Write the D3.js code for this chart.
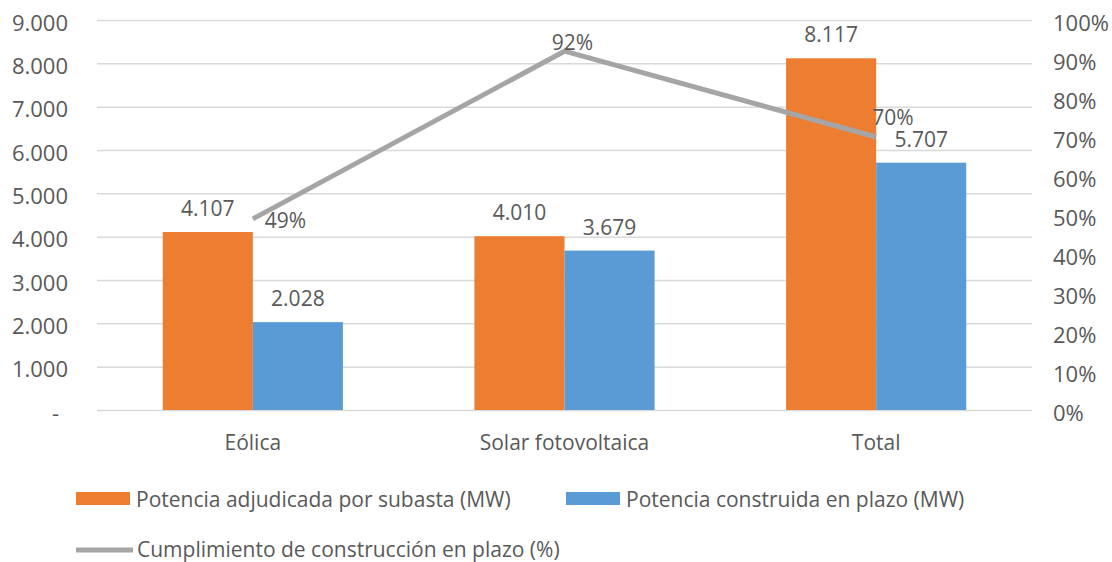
<!DOCTYPE html>
<html>
<head>
<meta charset="utf-8">
<script src="https://cdnjs.cloudflare.com/ajax/libs/d3/7.8.5/d3.min.js"></script>
<style>
  body { margin: 0; background: #fff; }
  text { font-family: "Open Sans", sans-serif; fill: #595959; }
</style>
</head>
<body>
<div class="graph"></div>
<script>
// data
var categories = ['Eólica', 'Solar fotovoltaica', 'Total'];
var adjudicada = [4107, 4010, 8117];
var construida = [2028, 3679, 5707];
var cumplimiento = [0.49, 0.92, 0.70];
var leftTicks = [0, 1000, 2000, 3000, 4000, 5000, 6000, 7000, 8000, 9000];
var rightTicks = [0, 0.1, 0.2, 0.3, 0.4, 0.5, 0.6, 0.7, 0.8, 0.9, 1];
var seriesNames = ['Potencia adjudicada por subasta (MW)', 'Potencia construida en plazo (MW)'];
var lineName = 'Cumplimiento de construcción en plazo (%)';

// percentage label offsets (dx, dy, anchor) as Excel placed them
var pctLabelPos = [[12, 9, 'start'], [8, -1, 'middle'], [-4, -12, 'start']];

var w = 1112, h = 562;
var colors = ['#ED7D31', '#5B9BD5'];
var lineColor = '#A5A5A5';

var svg = d3.select('div.graph').append('svg')
    .attr('width', w).attr('height', h);

var plt = {left: 97, right: 1032, top: 20, bottom: 410};

var x0 = d3.scaleBand().domain(categories).range([plt.left, plt.right]);
var x1 = d3.scaleBand().domain([0, 1]).range([0, x0.bandwidth()]).paddingOuter(0.73);
var y = d3.scaleLinear().domain([0, 9000]).range([plt.bottom, plt.top]);
var yr = d3.scaleLinear().domain([0, 1]).range([plt.bottom, plt.top]);

var fmt = function(v){ return v === 0 ? '-' : d3.format(',')(v).replace(/,/g, '.'); };

// gridlines + left axis
var leftAxis = d3.axisLeft(y).tickValues(leftTicks).tickFormat(fmt)
    .tickSize(-(plt.right - plt.left)).tickPadding(29);
var gl = svg.append('g').attr('transform', 'translate(' + plt.left + ',0)').call(leftAxis);
gl.select('.domain').remove();
gl.selectAll('.tick line').attr('stroke', '#d9d9d9').attr('stroke-width', 1.5);
gl.selectAll('.tick text').attr('font-size', 22).style('fill', '#595959')
    .attr('y', 3)
    .attr('dx', function(d){ return d === 0 ? -9 : 0; });

// right axis
var rightAxis = d3.axisRight(yr).tickValues(rightTicks).tickFormat(d3.format('.0%'))
    .tickSize(0).tickPadding(21);
var gr = svg.append('g').attr('transform', 'translate(' + plt.right + ',0)').call(rightAxis);
gr.select('.domain').remove();
gr.selectAll('.tick text').attr('font-size', 22).attr('y', 3).style('fill', '#595959');

// bars
var rows = categories.map(function(c, i){ return {cat: c, vals: [adjudicada[i], construida[i]]}; });
var grp = svg.selectAll('.cat').data(rows).enter().append('g')
    .attr('class', 'cat')
    .attr('transform', function(d){ return 'translate(' + x0(d.cat) + ',0)'; });

grp.selectAll('rect').data(function(d){ return d.vals; }).enter().append('rect')
    .attr('x', function(d, i){ return x1(i); })
    .attr('width', x1.bandwidth())
    .attr('y', function(d){ return y(d); })
    .attr('height', function(d){ return y(0) - y(d); })
    .attr('fill', function(d, i){ return colors[i]; });

grp.selectAll('.vlab').data(function(d){ return d.vals; }).enter().append('text')
    .attr('class', 'vlab')
    .attr('x', function(d, i){ return x1(i) + x1.bandwidth() / 2; })
    .attr('y', function(d){ return y(d) - 16; })
    .attr('text-anchor', 'middle')
    .attr('font-size', 21)
    .text(fmt);

// category labels
var xAxis = d3.axisBottom(x0).tickSize(0).tickPadding(25);
var gx = svg.append('g').attr('transform', 'translate(0,' + plt.bottom + ')').call(xAxis);
gx.select('.domain').remove();
gx.selectAll('.tick text').attr('font-size', 21).style('fill', '#595959');

// line
var pts = categories.map(function(c, i){ return [x0(c) + x0.bandwidth() / 2, yr(cumplimiento[i])]; });
svg.append('path').datum(pts)
    .attr('d', d3.line())
    .attr('fill', 'none')
    .attr('stroke', lineColor)
    .attr('stroke-width', 5);

svg.selectAll('.plab').data(cumplimiento).enter().append('text')
    .attr('class', 'plab')
    .attr('x', function(d, i){ return pts[i][0] + pctLabelPos[i][0]; })
    .attr('y', function(d, i){ return pts[i][1] + pctLabelPos[i][1]; })
    .attr('text-anchor', function(d, i){ return pctLabelPos[i][2]; })
    .attr('font-size', 21)
    .text(d3.format('.0%'));

// legend
var lg = svg.append('g');
var lgItems = [{x: 76, y: 492, name: seriesNames[0], color: colors[0]},
               {x: 566, y: 492, name: seriesNames[1], color: colors[1]}];
lg.selectAll('rect').data(lgItems).enter().append('rect')
    .attr('x', function(d){ return d.x; }).attr('y', function(d){ return d.y; })
    .attr('width', 54).attr('height', 13)
    .attr('fill', function(d){ return d.color; });
lg.selectAll('.lt').data(lgItems).enter().append('text')
    .attr('x', function(d){ return d.x + 60; }).attr('y', 507)
    .attr('font-size', 21)
    .text(function(d){ return d.name; });
lg.append('line').attr('x1', 76).attr('x2', 133).attr('y1', 550).attr('y2', 550)
    .attr('stroke', lineColor).attr('stroke-width', 5);
lg.append('text').attr('x', 137).attr('y', 557).attr('font-size', 21).text(lineName);
</script>
</body>
</html>
